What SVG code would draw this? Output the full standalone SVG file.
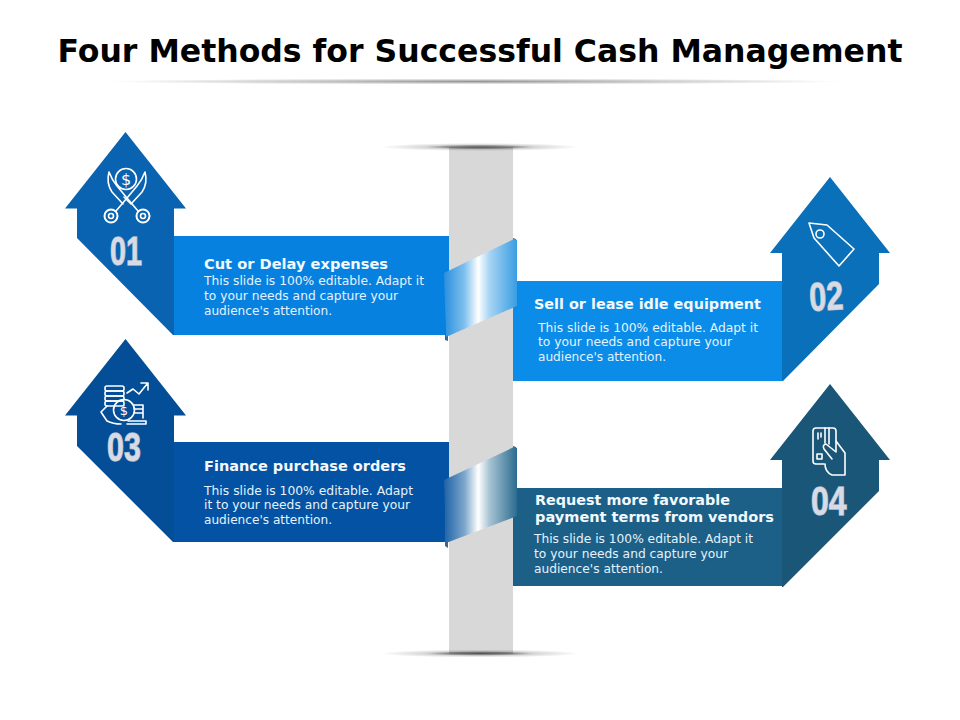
<svg xmlns="http://www.w3.org/2000/svg" width="960" height="720" viewBox="0 0 960 720">
<style>
.t{font-family:"DejaVu Sans",Verdana,sans-serif;font-size:14.5px;font-weight:700;fill:#f2f9ff}
.b{font-family:"DejaVu Sans",Verdana,sans-serif;font-size:12.4px;fill:#e6f2fc}
.n{font-family:"Liberation Sans",Arial,sans-serif;font-size:40px;font-weight:700;fill:#d6dbe6;stroke:#a9b2c2;stroke-width:1.4;paint-order:stroke}
.i{fill:none;stroke:#fff;stroke-width:1.6;stroke-linejoin:round;stroke-linecap:round}
</style>
<defs>
<radialGradient id="sh"><stop offset="0" stop-color="#000" stop-opacity=".62"/><stop offset=".35" stop-color="#000" stop-opacity=".42"/><stop offset=".55" stop-color="#000" stop-opacity=".16"/><stop offset="1" stop-color="#000" stop-opacity="0"/></radialGradient>
<radialGradient id="sh2"><stop offset="0" stop-color="#000" stop-opacity=".42"/><stop offset=".5" stop-color="#000" stop-opacity=".2"/><stop offset="1" stop-color="#000" stop-opacity="0"/></radialGradient>
<linearGradient id="tw1" x1="0" x2="1" y1="0" y2="0"><stop offset="0" stop-color="#2a8fdc"/><stop offset=".28" stop-color="#7fc0ee"/><stop offset=".47" stop-color="#fff"/><stop offset=".62" stop-color="#a8d5f4"/><stop offset="1" stop-color="#3a9de2"/></linearGradient>
<linearGradient id="tw2" x1="0" x2="1" y1="0" y2="0"><stop offset="0" stop-color="#1f62a6"/><stop offset=".28" stop-color="#7da6cc"/><stop offset=".47" stop-color="#fff"/><stop offset=".62" stop-color="#a9c4d4"/><stop offset="1" stop-color="#2c6c90"/></linearGradient>
</defs>
<rect width="960" height="720" fill="#fff"/>
<g id="title">
<text x="480" y="62" text-anchor="middle" textLength="845" lengthAdjust="spacingAndGlyphs" font-family="'DejaVu Sans',Verdana,sans-serif" font-size="31.500" font-weight="700" fill="#000">Four Methods for Successful Cash Management</text>
<ellipse cx="475" cy="81.500" rx="370" ry="3" fill="url(#sh2)"/>
</g>
<g id="pole">
<rect x="449" y="147" width="64" height="507" fill="#d8d8d8"/>
<ellipse cx="480" cy="147" rx="100" ry="4" fill="url(#sh)"/>
<ellipse cx="480" cy="653.500" rx="100" ry="4" fill="url(#sh)"/>
</g>
<g id="node-1">
<path d="M125.500 132L186 208.500H174V335L173 335L77 238V208.500H65Z" fill="#0a63b0"/>
<rect x="174" y="236" width="275" height="99" fill="#0781e0"/>
<g class="i">
<circle cx="126" cy="179" r="10.500"/>
<circle cx="111" cy="216" r="6.500" stroke-width="2"/><circle cx="111" cy="216" r="2.500"/>
<circle cx="143" cy="216" r="6.500" stroke-width="2"/><circle cx="143" cy="216" r="2.500"/>
<path d="M116 211L127 198L137 186Q142 180 145 172Q148 183 142 192L131 204L124 197"/>
<path d="M138 211L127 198L117 186Q112 180 109 172Q106 183 112 192L123 204"/>
</g>
<text x="126" y="185" text-anchor="middle" font-family="'DejaVu Sans',sans-serif" font-size="16" fill="#fff">$</text>
<text class="n" transform="translate(110,265) scale(.72,1)">01</text>
<text class="t" x="204" y="269" textLength="184" lengthAdjust="spacingAndGlyphs">Cut or Delay expenses</text>
<text class="b" x="204" y="285" textLength="220" lengthAdjust="spacingAndGlyphs">This slide is 100% editable. Adapt it</text>
<text class="b" x="204" y="300" textLength="194" lengthAdjust="spacingAndGlyphs">to your needs and capture your</text>
<text class="b" x="204" y="315" textLength="128" lengthAdjust="spacingAndGlyphs">audience's attention.</text>
</g>
<g id="node-2">
<path d="M830 177L890 253H879V284L783 381H782V253H770Z" fill="#0a70ba"/>
<rect x="513" y="281" width="269" height="100" fill="#0a8ce8"/>
<g class="i">
<path d="M809 223L827 225L854 249L839 266L814 238Z"/>
<circle cx="820" cy="234" r="4"/>
</g>
<text class="n" transform="translate(810,311) rotate(-3) scale(.76,1)">02</text>
<text class="t" x="534" y="309" textLength="227" lengthAdjust="spacingAndGlyphs">Sell or lease idle equipment</text>
<text class="b" x="538" y="332" textLength="220" lengthAdjust="spacingAndGlyphs">This slide is 100% editable. Adapt it</text>
<text class="b" x="538" y="346" textLength="194" lengthAdjust="spacingAndGlyphs">to your needs and capture your</text>
<text class="b" x="538" y="361" textLength="128" lengthAdjust="spacingAndGlyphs">audience's attention.</text>
</g>
<g id="node-3">
<path d="M125.500 339L186 415.500H174V542H173L77 446V415.500H65Z" fill="#034e96"/>
<rect x="174" y="442" width="275" height="100" fill="#0352a3"/>
<g class="i">
<rect x="105" y="386" width="19" height="5" rx="2"/><rect x="105" y="391" width="19" height="5" rx="2"/><rect x="105" y="396" width="19" height="5" rx="2"/><rect x="105" y="401" width="19" height="5" rx="2"/>
<circle cx="124" cy="410" r="10.500"/>
<path d="M127 393L133 389L139 394L147 384M141 383H148V390"/>
<path d="M134 405H143V418M134 409H143M134 413H143M128 421H146V424H127"/>
<path d="M107 406L101 412L107 421Q113 424 121 424"/>
</g>
<text x="124" y="415" text-anchor="middle" font-family="'DejaVu Sans',sans-serif" font-size="13" fill="#fff">$</text>
<text class="n" transform="translate(107,461) scale(.76,1.02)">03</text>
<text class="t" x="204" y="471" textLength="202" lengthAdjust="spacingAndGlyphs">Finance purchase orders</text>
<text class="b" x="204" y="495" textLength="209" lengthAdjust="spacingAndGlyphs">This slide is 100% editable. Adapt</text>
<text class="b" x="204" y="509" textLength="206" lengthAdjust="spacingAndGlyphs">it to your needs and capture your</text>
<text class="b" x="204" y="524" textLength="128" lengthAdjust="spacingAndGlyphs">audience's attention.</text>
</g>
<g id="node-4">
<path d="M830 384L890 460H879V491L783 587H782V460H770Z" fill="#1a5677"/>
<rect x="513" y="488" width="269" height="98" fill="#1c6088"/>
<g class="i">
<path d="M824 464H816Q813 464 813 461V431Q813 428 816 428H833Q836 428 836 431V441"/>
<path d="M829 428V444M825 428V443"/>
<path d="M818 433V439M821 433V437"/>
<rect x="817" y="454" width="5" height="5"/>
<path d="M832 459L824 449Q822 445 826 444L836 452L836 441L845 453V475H832Q825 472 825 464"/>
</g>
<text class="n" transform="translate(811,515) scale(.8,1)">04</text>
<text class="t" x="535" y="505" textLength="195" lengthAdjust="spacingAndGlyphs">Request more favorable</text>
<text class="t" x="535" y="522" textLength="239" lengthAdjust="spacingAndGlyphs">payment terms from vendors</text>
<text class="b" x="534" y="543" textLength="219" lengthAdjust="spacingAndGlyphs">This slide is 100% editable. Adapt it</text>
<text class="b" x="534" y="558" textLength="194" lengthAdjust="spacingAndGlyphs">to your needs and capture your</text>
<text class="b" x="534" y="573" textLength="129" lengthAdjust="spacingAndGlyphs">audience's attention.</text>
</g>
<g id="connectors">
<path d="M445 272V340L448 341L448 334ZM513 238L516 239V308L513 306Z" fill="#46657f"/>
<path d="M444 273L514 239L517 240V306L446 337Z" fill="url(#tw1)"/>
<path d="M445 479V546L448 548V540ZM513 446L516 447V516L513 515Z" fill="#46657f"/>
<path d="M444 480L514 447L517 448V516L446 543Z" fill="url(#tw2)"/>
</g>
</svg>
